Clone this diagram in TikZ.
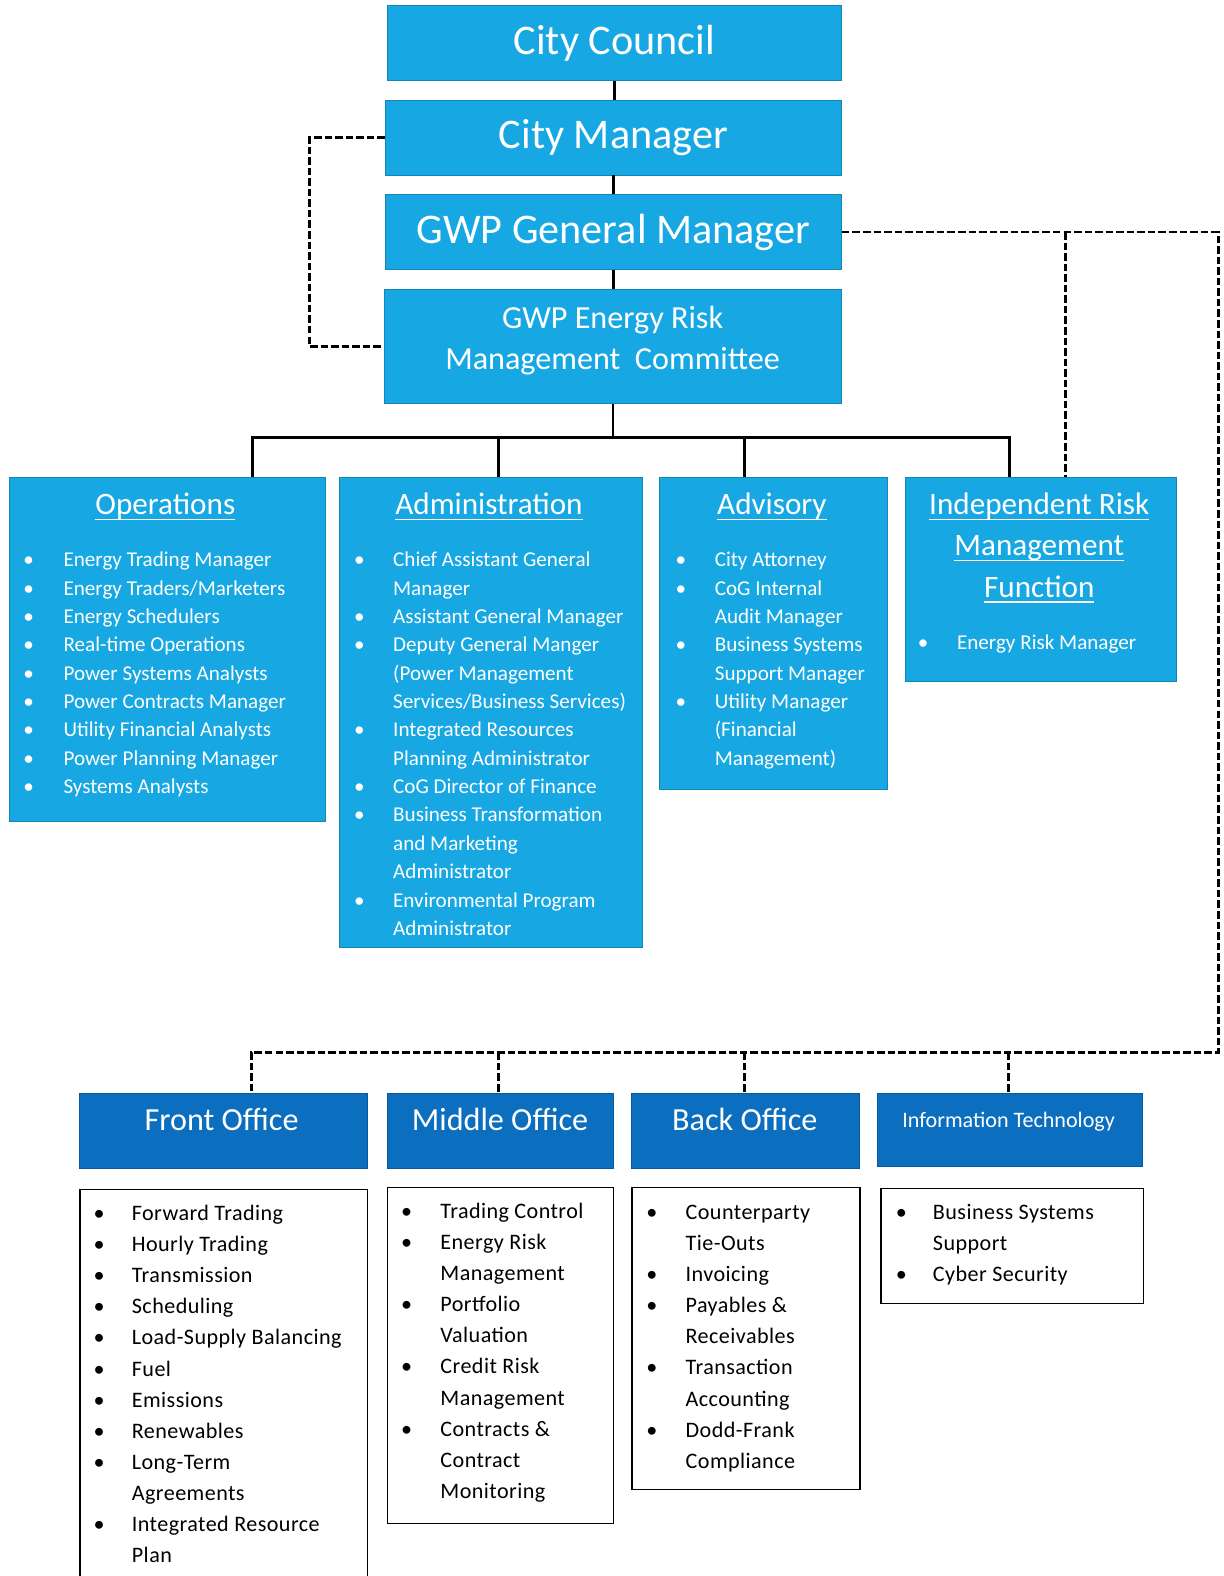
\documentclass[tikz,border=0pt]{standalone}
\usepackage{fontspec}
\setmainfont{Carlito}
\newfontfamily\lsfont[LetterSpace=2.0]{Carlito}
\newsavebox\ulbox
\newcommand\myul[1]{\sbox\ulbox{#1}\rlap{\rule[-5.5pt]{\wd\ulbox}{1.6pt}}\usebox\ulbox}
\definecolor{lblue}{HTML}{17A8E3}
\definecolor{dblue}{HTML}{0B6EBF}
\tikzset{
  lbox/.style={fill=lblue, draw=lblue!80!black, line width=0.6pt, inner sep=0pt, anchor=north west},
  dbox/.style={fill=dblue, draw=dblue!80!black, line width=0.6pt, inner sep=0pt, anchor=north west},
  wbox/.style={draw=black, line width=1.3pt, fill=white, inner sep=0pt, anchor=north west},
  solidc/.style={draw=black, line width=2.8pt},
  dashc/.style={draw=black, line width=2.9pt, dash pattern=on 7.5pt off 3pt},
  toptext/.style={text=white, font=\fontsize{42}{50}\selectfont},
  ttl/.style={text=white, anchor=base, inner sep=0pt, font=\fontsize{31}{41}\selectfont},
  hdr/.style={text=white, anchor=base, inner sep=0pt, font=\fontsize{32}{40}\selectfont},
  blist/.style={text=white, anchor=base west, inner sep=0pt, font=\fontsize{21}{28.2}\selectfont},
  klist/.style={text=black, anchor=base west, inner sep=0pt, font=\lsfont\fontsize{22}{31}\selectfont}
}
\begin{document}
\begin{tikzpicture}[x=1pt,y=-1pt]
\clip (0,0) rectangle (1217,1568);
\fill[white] (0,0) rectangle (1217,1568);

% top chain
\node[lbox, minimum width=452pt, minimum height=75pt, toptext] (cc) at (385,5) {City Council};
\node[lbox, minimum width=454pt, minimum height=75pt, toptext] (cm) at (383,99) {City Manager};
\node[lbox, minimum width=454pt, minimum height=75pt, toptext] (gm) at (383,193) {GWP General Manager};
\node[lbox, minimum width=455pt, minimum height=113pt] (erm) at (382,288) {};
\node[text=white, anchor=base, inner sep=0pt, font=\fontsize{32}{41}\selectfont] (ermt) at (609.5,327)
  {\begin{tabular}[t]{@{}c@{}}GWP Energy Risk\\Management\ \ Committee\end{tabular}};

% second level boxes
\node[lbox, minimum width=314pt, minimum height=342pt] (ops) at (9,475) {};
\node[lbox, minimum width=302pt, minimum height=467pt] (adm) at (337,475) {};
\node[lbox, minimum width=226pt, minimum height=310pt] (adv) at (656,475) {};
\node[lbox, minimum width=270pt, minimum height=203pt] (irm) at (900,475) {};

\node[ttl] (opst) at (164.5,512) {\myul{Operations}};
\node[ttl] (admt) at (486.5,512) {\myul{Administration}};
\node[ttl] (advt) at (768,512) {\myul{Advisory}};
\node[ttl] (irmt) at (1034,512) {\begin{tabular}[t]{@{}c@{}}\myul{Independent Risk}\\\myul{Management}\\\myul{Function}\end{tabular}};

\node[blist] (opsl) at (23,564) {\begin{tabular}[t]{@{}p{40pt}@{}l@{}}
\textbullet & Energy Trading Manager\\
\textbullet & Energy Traders/Marketers\\
\textbullet & Energy Schedulers\\
\textbullet & Real-time Operations\\
\textbullet & Power Systems Analysts\\
\textbullet & Power Contracts Manager\\
\textbullet & Utility Financial Analysts\\
\textbullet & Power Planning Manager\\
\textbullet & Systems Analysts
\end{tabular}};

\node[blist] (adml) at (352,564) {\begin{tabular}[t]{@{}p{39pt}@{}l@{}}
\textbullet & Chief Assistant General\\
 & Manager\\
\textbullet & Assistant General Manager\\
\textbullet & Deputy General Manger\\
 & (Power Management\\
 & Services/Business Services)\\
\textbullet & Integrated Resources\\
 & Planning Administrator\\
\textbullet & CoG Director of Finance\\
\textbullet & Business Transformation\\
 & and Marketing\\
 & Administrator\\
\textbullet & Environmental Program\\
 & Administrator
\end{tabular}};

\node[blist] (advl) at (672,564) {\begin{tabular}[t]{@{}p{39pt}@{}l@{}}
\textbullet & City Attorney\\
\textbullet & CoG Internal\\
 & Audit Manager\\
\textbullet & Business Systems\\
 & Support Manager\\
\textbullet & Utility Manager\\
 & (Financial\\
 & Management)
\end{tabular}};

\node[blist] (irml) at (913,646) {\begin{tabular}[t]{@{}p{39pt}@{}l@{}}
\textbullet & Energy Risk Manager
\end{tabular}};

% bottom headers
\node[dbox, minimum width=286pt, minimum height=75pt] (fo) at (79,1087) {};
\node[dbox, minimum width=225pt, minimum height=75pt] (mo) at (385,1087) {};
\node[dbox, minimum width=227pt, minimum height=75pt] (bo) at (628,1087) {};
\node[dbox, minimum width=263pt, minimum height=73pt] (it) at (873,1087) {};
\node[hdr] (fot) at (220.5,1125) {Front Office};
\node[hdr] (mot) at (497.5,1125) {Middle Office};
\node[hdr] (bot) at (741,1125) {Back Office};
\node[text=white, anchor=base, inner sep=0pt, font=\fontsize{22}{28}\selectfont] (itt) at (1003.5,1122) {Information Technology};

% bottom lists
\node[wbox, minimum width=286pt, minimum height=420pt] (fol) at (79,1183) {};
\node[wbox, minimum width=225pt, minimum height=334pt] (mol) at (385,1181) {};
\node[wbox, minimum width=227pt, minimum height=300pt] (bol) at (628,1181) {};
\node[wbox, minimum width=261pt, minimum height=114pt] (itl) at (876,1182) {};

\node[klist] (folt) at (93,1214) {\begin{tabular}[t]{@{}p{38pt}@{}l@{}}
\textbullet & Forward Trading\\
\textbullet & Hourly Trading\\
\textbullet & Transmission\\
\textbullet & Scheduling\\
\textbullet & Load-Supply Balancing\\
\textbullet & Fuel\\
\textbullet & Emissions\\
\textbullet & Renewables\\
\textbullet & Long-Term\\
 & Agreements\\
\textbullet & Integrated Resource\\
 & Plan
\end{tabular}};

\node[klist] (molt) at (399,1212) {\begin{tabular}[t]{@{}p{39pt}@{}l@{}}
\textbullet & Trading Control\\
\textbullet & Energy Risk\\
 & Management\\
\textbullet & Portfolio\\
 & Valuation\\
\textbullet & Credit Risk\\
 & Management\\
\textbullet & Contracts \&\\
 & Contract\\
 & Monitoring
\end{tabular}};

\node[klist] (bolt) at (643,1213) {\begin{tabular}[t]{@{}p{39pt}@{}l@{}}
\textbullet & Counterparty\\
 & Tie-Outs\\
\textbullet & Invoicing\\
\textbullet & Payables \&\\
 & Receivables\\
\textbullet & Transaction\\
 & Accounting\\
\textbullet & Dodd-Frank\\
 & Compliance
\end{tabular}};

\node[klist] (itlt) at (891,1213) {\begin{tabular}[t]{@{}p{37pt}@{}l@{}}
\textbullet & Business Systems\\
 & Support\\
\textbullet & Cyber Security
\end{tabular}};

% solid connectors
\draw[solidc] (cc.south) -- (cc.south |- cm.north);
\draw[solidc] (cm.south) -- (cm.south |- gm.north);
\draw[solidc] (gm.south) -- (gm.south |- erm.north);
\coordinate (jl) at (251,435);
\coordinate (ja) at (496,435);
\coordinate (jv) at (741,435);
\coordinate (jr) at (1004,435);
\draw[solidc] (erm.south) -- (erm.south |- jl);
\draw[solidc, line join=miter] (jl |- ops.north) -- (jl) -- (jr) -- (jr |- irm.north);
\draw[solidc] (ja) -- (ja |- adm.north);
\draw[solidc] (jv) -- (jv |- adv.north);

% dashed connectors
\coordinate (dl) at (308,0);
\draw[dashc] (cm.west) -- (cm.west -| dl) -- (erm.west -| dl) -- (erm.west);
\coordinate (dr) at (1212,1047);
\coordinate (db1) at (250,1047);
\coordinate (db2) at (496,1047);
\coordinate (db3) at (741,1047);
\coordinate (db4) at (1003,1047);
\coordinate (dx) at (1060,0);
\draw[dashc] (gm.east) -- (gm.east -| dr) -- (dr) -- (db1) -- (db1 |- fo.north);
\draw[dashc] (gm.east -| dx) -- (dx |- irm.north);
\draw[dashc] (db2) -- (db2 |- mo.north);
\draw[dashc] (db3) -- (db3 |- bo.north);
\draw[dashc] (db4) -- (db4 |- it.north);
\end{tikzpicture}
\end{document}
